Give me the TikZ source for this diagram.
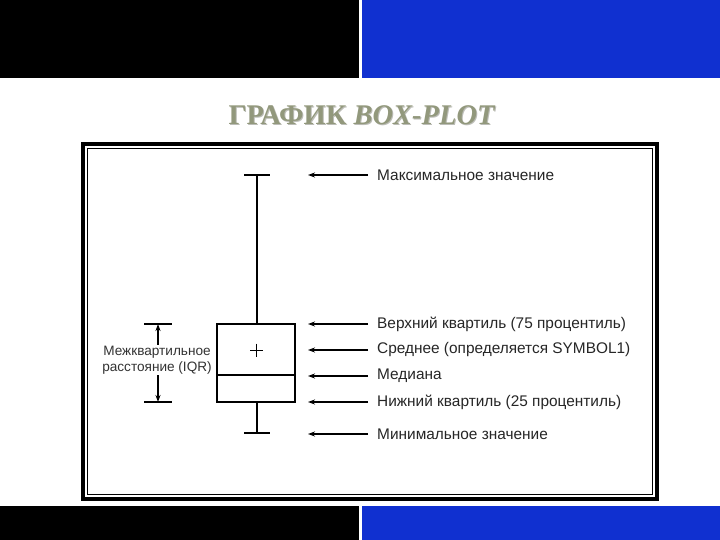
\documentclass[tikz,border=0pt]{standalone}
\usepackage{fontspec}
\setmainfont{Liberation Sans}
\newfontfamily\titlefont{Liberation Serif}
\usetikzlibrary{positioning,arrows.meta,calc}
\definecolor{bandblue}{RGB}{16,48,208}
\definecolor{titlegray}{RGB}{146,152,124}

\begin{document}
\begin{tikzpicture}[x=1pt,y=-1pt,
  lab/.style={anchor=west,inner xsep=0pt,font=\fontsize{15.4}{17}\selectfont,text=black!85},
  arr/.style={-{Stealth[length=7pt,width=5pt]},line width=1.4pt},
  plot/.style={line width=1.7pt}]
\useasboundingbox (0,0) rectangle (720,540);
\fill[white] (0,0) rectangle (720,540);
% bands
\fill[black] (0,0) rectangle (359,78);
\fill[bandblue] (362,0) rectangle (720,78);
\fill[black] (0,506) rectangle (359,540);
\fill[bandblue] (362,506) rectangle (720,540);
% title
\node[font=\titlefont\bfseries\fontsize{28.5}{30}\selectfont,text=titlegray!60!black!40] at (363,116) {ГРАФИК \textit{BOX-PLOT}};
\node[font=\titlefont\bfseries\fontsize{28.5}{30}\selectfont,text=titlegray] (title) at (362,115) {ГРАФИК \textit{BOX-PLOT}};
% frame
\draw[line width=4.5pt] (83,144) rectangle (657,499);
\draw[line width=1.3pt] (87.5,148.5) rectangle (652.5,494.5);
% box plot
\coordinate (top) at (257,175);
\coordinate (bot) at (257,433);
\draw[plot] (244,175) -- (270,175);
\draw[plot] (244,433) -- (270,433);
\draw[plot] (top) -- (257,324);
\draw[plot] (257,402) -- (bot);
\draw[plot] (217,324) rectangle (295,402);
\draw[plot] (217,375) -- (295,375);
\draw[line width=1pt] (250,350) -- (263,350) (256.5,343.5) -- (256.5,356.5);
% labels
\node[lab] (lmax) at (377,175) {Максимальное значение};
\node[lab] (lq3) at (377,324) {Верхний квартиль (75 процентиль)};
\node[lab] (lmean) at (377,350) {Среднее (определяется SYMBOL1)};
\node[lab] (lmed) at (377,376) {Медиана};
\node[lab] (lq1) at (377,402) {Нижний квартиль (25 процентиль)};
\node[lab] (lmin) at (377,434) {Минимальное значение};
\draw[arr] ([xshift=-9pt]lmax.west) -- (308,175);
\draw[arr] ([xshift=-9pt]lq3.west) -- (308,324);
\draw[arr] ([xshift=-9pt]lmean.west) -- (308,350);
\draw[arr] ([xshift=-9pt]lmed.west) -- (308,376);
\draw[arr] ([xshift=-9pt]lq1.west) -- (308,402);
\draw[arr] ([xshift=-9pt]lmin.west) -- (308,434);
% IQR
\node[align=center,font=\fontsize{13.6}{16}\selectfont,text=black!80,inner sep=1pt] (iqr) at (157,360) {Межквартильное\\расстояние (IQR)};
\draw[plot] (144,324) -- (172,324);
\draw[plot] (144,402) -- (172,402);
\draw[arr] (iqr.north -| 158,0) -- (158,324);
\draw[arr] (iqr.south -| 158,0) -- (158,402);
\end{tikzpicture}
\end{document}
